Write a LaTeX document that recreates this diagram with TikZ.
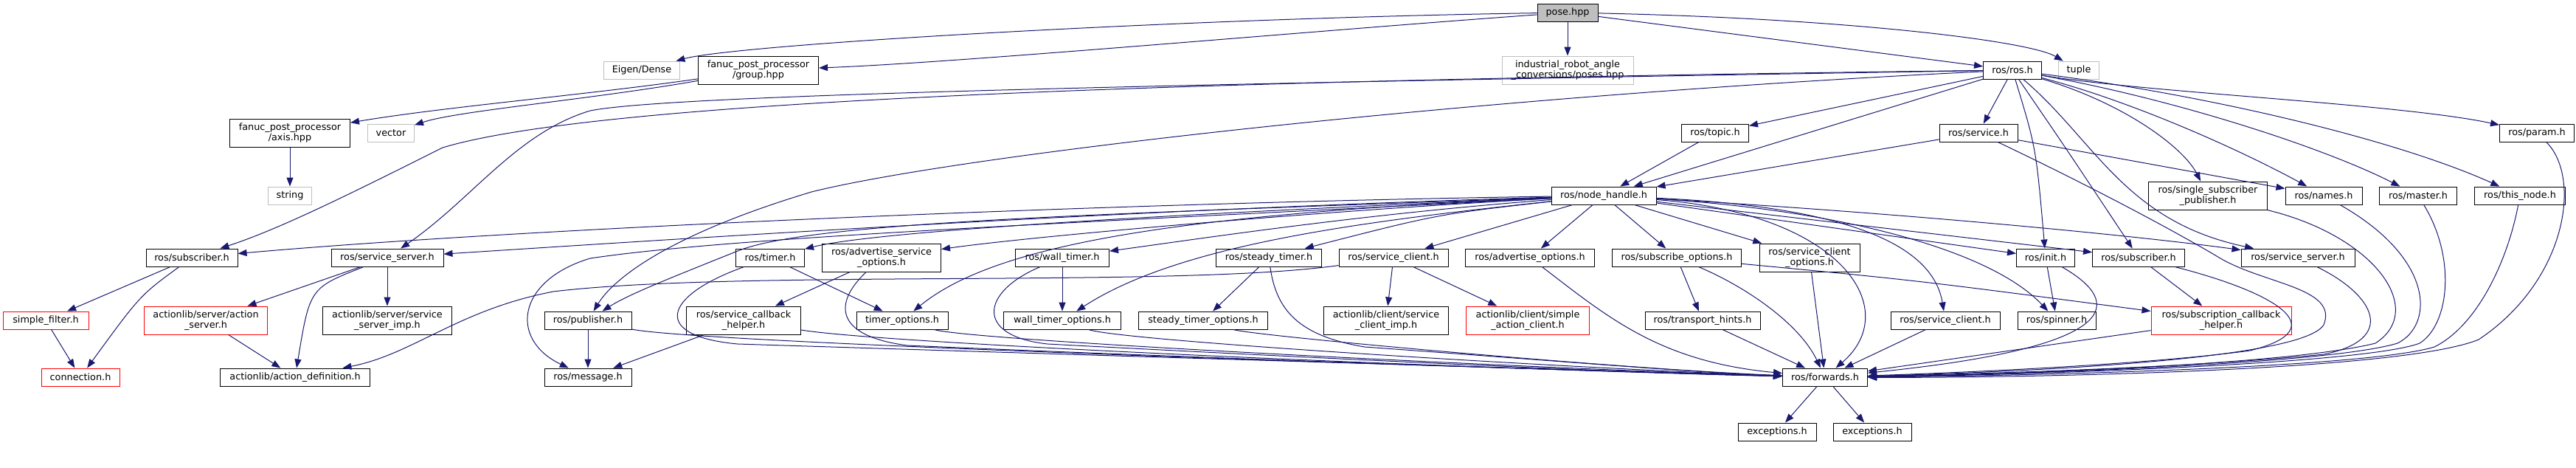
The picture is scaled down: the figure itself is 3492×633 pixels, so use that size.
\documentclass[tikz,border=0pt]{standalone}
\usepackage{fontspec}
\setmainfont{DejaVu Sans}
\usetikzlibrary{arrows.meta}
\definecolor{edgeblue}{HTML}{191970}
\definecolor{grey75}{HTML}{BFBFBF}
\begin{document}
\begin{tikzpicture}[x=1pt,y=-1pt,every node/.style={inner sep=0pt}]
\tikzstyle{file}=[draw=black,line width=1pt,minimum height=24pt,align=center,font=\fontsize{12.8}{13.8}\selectfont]
\tikzstyle{tall}=[minimum height=38pt]
\tikzstyle{nodoc}=[file,draw=grey75]
\tikzstyle{cut}=[file,draw=red]
\tikzstyle{root}=[file,fill=grey75]
\tikzstyle{arrow}=[draw=edgeblue,line width=1pt,-{Triangle[length=12pt,width=9pt]}]
\useasboundingbox (0,0) rectangle (3492,633);

\node[root,minimum width=82pt](n00) at (2125,17){pose.hpp};

\node[nodoc,minimum width=103pt](n10) at (870,95){Eigen/Dense};
\node[file,tall,minimum width=163pt](n11) at (1028,95){fanuc\_post\_processor\\/group.hpp};
\node[nodoc,tall,minimum width=178pt](n12) at (2125,95){industrial\_robot\_angle\\\_conversions/poses.hpp};
\node[file,minimum width=79pt](n13) at (2728,95){ros/ros.h};
\node[nodoc,minimum width=55pt](n14) at (2818,95){tuple};

\node[file,tall,minimum width=163pt](n20) at (393,180){fanuc\_post\_processor\\/axis.hpp};
\node[nodoc,minimum width=63pt](n21) at (530,180){vector};
\node[file,minimum width=91pt](n22) at (2325,180){ros/topic.h};
\node[file,minimum width=106pt](n23) at (2682,180){ros/service.h};
\node[file,minimum width=101pt](n24) at (3439,180){ros/param.h};

\node[nodoc,minimum width=59pt](n30) at (393,265){string};
\node[file,minimum width=142pt](n31) at (2174,265){ros/node\_handle.h};
\node[file,tall,minimum width=161pt](n32) at (2993,265){ros/single\_subscriber\\\_publisher.h};
\node[file,minimum width=104pt](n33) at (3150,265){ros/names.h};
\node[file,minimum width=105pt](n34) at (3278,265){ros/master.h};
\node[file,minimum width=123pt](n35) at (3416,265){ros/this\_node.h};

\node[file,minimum width=124pt](n40) at (260,349){ros/subscriber.h};
\node[file,minimum width=152pt](n41) at (525,349){ros/service\_server.h};
\node[file,minimum width=93pt](n42) at (1044,349){ros/timer.h};
\node[file,tall,minimum width=161pt](n43) at (1195,349){ros/advertise\_service\\\_options.h};
\node[file,minimum width=127pt](n44) at (1440,349){ros/wall\_timer.h};
\node[file,minimum width=143pt](n45) at (1720,349){ros/steady\_timer.h};
\node[file,minimum width=148pt](n46) at (1889,349){ros/service\_client.h};
\node[file,minimum width=175pt](n47) at (2074,349){ros/advertise\_options.h};
\node[file,minimum width=175pt](n48) at (2273,349){ros/subscribe\_options.h};
\node[file,tall,minimum width=136pt](n49) at (2453,349){ros/service\_client\\\_options.h};
\node[file,minimum width=79pt](n4a) at (2773,349){ros/init.h};
\node[file,minimum width=125pt](n4b) at (2899,349){ros/subscriber.h};
\node[file,minimum width=154pt](n4c) at (3115,349){ros/service\_server.h};

\node[cut,minimum width=116pt](n50) at (62,434){simple\_filter.h};
\node[cut,tall,minimum width=167pt](n51) at (279,434){actionlib/server/action\\\_server.h};
\node[file,tall,minimum width=175pt](n52) at (525,434){actionlib/server/service\\\_server\_imp.h};
\node[file,minimum width=118pt](n53) at (797,434){ros/publisher.h};
\node[file,tall,minimum width=155pt](n54) at (1008,434){ros/service\_callback\\\_helper.h};
\node[file,minimum width=124pt](n55) at (1223,434){timer\_options.h};
\node[file,minimum width=159pt](n56) at (1440,434){wall\_timer\_options.h};
\node[file,minimum width=175pt](n57) at (1631,434){steady\_timer\_options.h};
\node[file,tall,minimum width=169pt](n58) at (1879,434){actionlib/client/service\\\_client\_imp.h};
\node[cut,tall,minimum width=167pt](n59) at (2071,434){actionlib/client/simple\\\_action\_client.h};
\node[file,minimum width=156pt](n5a) at (2308,434){ros/transport\_hints.h};
\node[file,minimum width=148pt](n5b) at (2637,434){ros/service\_client.h};
\node[file,minimum width=106pt](n5c) at (2788,434){ros/spinner.h};
\node[cut,tall,minimum width=190pt](n5d) at (3011,434){ros/subscription\_callback\\\_helper.h};

\node[cut,minimum width=106pt](n60) at (109,511){connection.h};
\node[file,minimum width=203pt](n61) at (400,511){actionlib/action\_definition.h};
\node[file,minimum width=118pt](n62) at (797,511){ros/message.h};
\node[file,minimum width=115pt](n63) at (2474,511){ros/forwards.h};

\node[file,minimum width=106pt](n70) at (2409,585){exceptions.h};
\node[file,minimum width=106pt](n71) at (2538,585){exceptions.h};

\draw[arrow] (n00) .. controls (1600,25) and (1000,60) .. (n10);
\draw[arrow] (n00) .. controls (1800,40) and (1300,85) .. (n11);
\draw[arrow] (n00) -- (n12);
\draw[arrow] (n00) -- (n13);
\draw[arrow] (n00) .. controls (2500,25) and (2750,55) .. (n14);
\draw[arrow] (n11) .. controls (800,128) and (600,145) .. (n20);
\draw[arrow] (n11) .. controls (800,135) and (620,150) .. (n21);
\draw[arrow] (n20) -- (n30);

\draw[arrow] (n13) .. controls (1500,110) and (800,140) .. (600,200) .. controls (480,260) and (380,310) .. (n40);
\draw[arrow] (n13) .. controls (1500,115) and (900,130) .. (800,150) .. controls (700,180) and (640,270) .. (n41);
\draw[arrow] (n13) .. controls (2000,130) and (1300,210) .. (1100,260) .. controls (900,320) and (830,380) .. (n53);
\draw[arrow] (n13) -- (n22);
\draw[arrow] (n13) -- (n23);
\draw[arrow] (n13) -- (n31);
\draw[arrow] (n13) .. controls (2760,200) .. (n4a);
\draw[arrow] (n13) .. controls (2800,200) .. (n4b);
\draw[arrow] (n13) .. controls (2840,190) and (2880,300) .. (n4c);
\draw[arrow] (n13) .. controls (2880,140) and (2960,200) .. (n32);
\draw[arrow] (n13) .. controls (2900,140) and (3050,210) .. (n33);
\draw[arrow] (n13) .. controls (2950,135) and (3150,200) .. (n34);
\draw[arrow] (n13) .. controls (3000,130) and (3250,190) .. (n35);
\draw[arrow] (n13) .. controls (2900,125) and (3250,140) .. (n24);
\draw[arrow] (n22) -- (n31);
\draw[arrow] (n23) -- (n31);
\draw[arrow] (n23) -- (n33);
\draw[arrow] (n23) .. controls (2850,260) and (2960,320) .. (3010,350) .. controls (3070,385) and (3170,390) .. (3150,440) .. controls (3120,490) and (2700,505) .. (n63);

\draw[arrow] (n31) .. controls (1500,275) and (700,310) .. (n40);
\draw[arrow] (n31) .. controls (1500,285) and (900,325) .. (n41);
\draw[arrow] (n31) .. controls (1700,285) and (1200,310) .. (n42);
\draw[arrow] (n31) .. controls (1800,285) and (1400,320) .. (n43);
\draw[arrow] (n31) .. controls (1850,290) and (1650,320) .. (n44);
\draw[arrow] (n31) .. controls (1950,290) .. (n45);
\draw[arrow] (n31) -- (n46);
\draw[arrow] (n31) -- (n47);
\draw[arrow] (n31) -- (n48);
\draw[arrow] (n31) -- (n49);
\draw[arrow] (n31) -- (n4a);
\draw[arrow] (n31) -- (n4b);
\draw[arrow] (n31) .. controls (2600,290) and (2900,320) .. (n4c);
\draw[arrow] (n31) .. controls (1500,290) and (1100,300) .. (1000,340) .. controls (900,380) and (850,400) .. (n53);
\draw[arrow] (n31) .. controls (1500,300) and (1000,320) .. (800,350) .. controls (700,380) and (690,460) .. (n62);
\draw[arrow] (n31) .. controls (1600,290) and (1350,330) .. (n55);
\draw[arrow] (n31) .. controls (1850,300) and (1600,330) .. (n56);
\draw[arrow] (n31) .. controls (2500,280) and (2620,330) .. (n5b);
\draw[arrow] (n31) .. controls (2500,285) and (2700,340) .. (n5c);
\draw[arrow] (n31) .. controls (2500,290) and (2580,420) .. (n63);

\draw[arrow] (n40) -- (n50);
\draw[arrow] (n40) .. controls (190,400) .. (n60);
\draw[arrow] (n50) -- (n60);
\draw[arrow] (n41) -- (n51);
\draw[arrow] (n41) -- (n52);
\draw[arrow] (n41) .. controls (420,390) .. (n61);
\draw[arrow] (n51) -- (n61);
\draw[arrow] (n46) .. controls (1600,390) and (1000,365) .. (750,395) .. controls (620,420) and (560,480) .. (n61);
\draw[arrow] (n46) -- (n58);
\draw[arrow] (n46) -- (n59);
\draw[arrow] (n42) -- (n55);
\draw[arrow] (n43) -- (n54);
\draw[arrow] (n44) -- (n56);
\draw[arrow] (n45) -- (n57);
\draw[arrow] (n53) -- (n62);
\draw[arrow] (n54) -- (n62);
\draw[arrow] (n48) -- (n5a);
\draw[arrow] (n48) .. controls (2600,380) .. (n5d);
\draw[arrow] (n4a) -- (n5c);
\draw[arrow] (n4b) -- (n5d);

\draw[arrow] (n53) .. controls (950,465) and (2000,498) .. (n63);
\draw[arrow] (n54) .. controls (1200,466) and (2000,500) .. (n63);
\draw[arrow] (n42) .. controls (900,400) and (880,455) .. (1000,466) .. controls (1600,485) and (2200,503) .. (n63);
\draw[arrow] (n43) .. controls (1130,410) and (1130,455) .. (1230,468) .. controls (1700,488) and (2200,504) .. (n63);
\draw[arrow] (n55) .. controls (1320,462) and (2100,500) .. (n63);
\draw[arrow] (n44) .. controls (1330,395) and (1320,455) .. (1420,466) .. controls (1800,486) and (2200,505) .. (n63);
\draw[arrow] (n56) .. controls (1520,462) and (2150,500) .. (n63);
\draw[arrow] (n45) .. controls (1730,420) and (1760,455) .. (1850,470) .. controls (2100,488) and (2300,505) .. (n63);
\draw[arrow] (n57) .. controls (1700,455) and (2200,500) .. (n63);
\draw[arrow] (n47) .. controls (2180,430) and (2250,490) .. (n63);
\draw[arrow] (n5a) -- (n63);
\draw[arrow] (n49) -- (n63);
\draw[arrow] (n48) .. controls (2370,390) and (2440,440) .. (n63);
\draw[arrow] (n5b) -- (n63);
\draw[arrow] (n4a) .. controls (2880,410) and (2880,470) .. (n63);
\draw[arrow] (n5d) -- (n63);
\draw[arrow] (n4b) .. controls (3080,395) and (3170,445) .. (3050,475) .. controls (2900,495) and (2650,505) .. (n63);
\draw[arrow] (n4c) .. controls (3220,400) and (3250,460) .. (3150,480) .. controls (2950,500) and (2650,507) .. (n63);
\draw[arrow] (n32) .. controls (3220,320) and (3290,420) .. (3220,465) .. controls (3100,495) and (2700,508) .. (n63);
\draw[arrow] (n33) .. controls (3300,350) and (3300,440) .. (3250,465) .. controls (3150,495) and (2700,508) .. (n63);
\draw[arrow] (n34) .. controls (3330,350) and (3320,440) .. (3280,465) .. controls (3200,495) and (2700,509) .. (n63);
\draw[arrow] (n35) .. controls (3400,350) and (3360,440) .. (3300,470) .. controls (3200,500) and (2700,510) .. (n63);
\draw[arrow] (n24) .. controls (3500,240) and (3480,380) .. (3360,460) .. controls (3250,505) and (2700,512) .. (n63);
\draw[arrow] (n63) -- (n70);
\draw[arrow] (n63) -- (n71);
\end{tikzpicture}
\end{document}
